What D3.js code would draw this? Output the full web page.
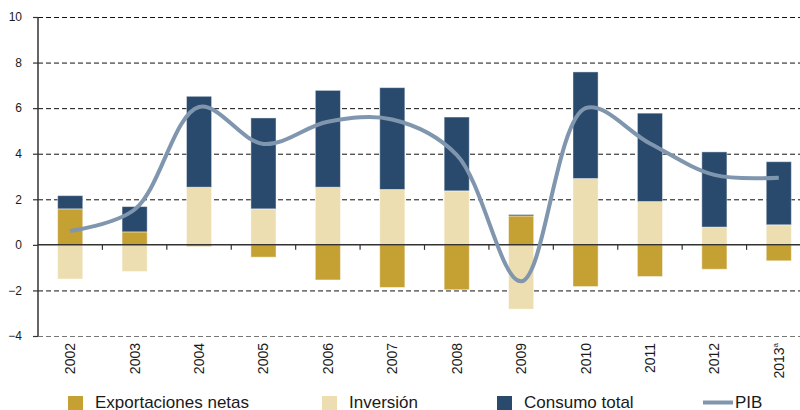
<!DOCTYPE html>
<html>
<head>
<meta charset="utf-8">
<script src="https://cdnjs.cloudflare.com/ajax/libs/d3/7.8.5/d3.min.js"></script>
<style>
  body { margin: 0; background: #fff; }
  text { font-family: "Liberation Sans", Arial, sans-serif; fill: #1a1a1a; }
</style>
</head>
<body>
<script>
var years = ["2002", "2003", "2004", "2005", "2006", "2007", "2008", "2009", "2010", "2011", "2012", "2013"];
var exportaciones = [1.58, 0.57, -0.07, -0.54, -1.54, -1.87, -1.97, 1.27, -1.83, -1.39, -1.07, -0.70];
var inversion = [-1.50, -1.17, 2.53, 1.58, 2.53, 2.43, 2.37, -2.82, 2.91, 1.90, 0.78, 0.88];
var consumo = [0.58, 1.11, 3.99, 3.99, 4.25, 4.47, 3.24, 0.06, 4.68, 3.88, 3.30, 2.77];
var pib = [0.61, 1.55, 6.05, 4.43, 5.40, 5.50, 3.95, -1.60, 6.00, 4.45, 3.07, 2.95];
var yTicks = [-4, -2, 0, 2, 4, 6, 8, 10];

var w = 800,
  h = 410,
  plotLeft = 38,
  plotRight = 811,
  plotTop = 17,
  plotBottom = 336;

var colors = {
  exportaciones: "#c5a033",
  inversion: "#ecdeb0",
  consumo: "#294a6d"
};
var pibColor = "#7f96ae";

var svg = d3.select("body")
  .append("svg")
  .attr("width", w)
  .attr("height", h);

var xScale = d3.scaleBand()
  .domain(years)
  .range([plotLeft, plotRight])
  .paddingInner(0.61)
  .paddingOuter(0.305);

var yScale = d3.scaleLinear()
  .domain([-4, 10])
  .range([plotBottom, plotTop]);

// gridlines
svg.append("g")
  .selectAll("line")
  .data(yTicks.filter(d => d !== 0))
  .enter()
  .append("line")
  .attr("x1", plotLeft)
  .attr("x2", w)
  .attr("y1", d => yScale(d) + 0.5)
  .attr("y2", d => yScale(d) + 0.5)
  .attr("stroke", d => d === -4 ? "#777" : "#111")
  .attr("stroke-width", 1)
  .attr("stroke-dasharray", "5,3");

// stacked bars
var rows = years.map((y, i) => ({
  year: y,
  exportaciones: exportaciones[i],
  inversion: inversion[i],
  consumo: consumo[i]
}));

var stack = d3.stack()
  .keys(["exportaciones", "inversion", "consumo"])
  .offset(d3.stackOffsetDiverging);

var series = stack(rows);

svg.append("g")
  .selectAll("g")
  .data(series)
  .enter()
  .append("g")
  .attr("fill", d => colors[d.key])
  .selectAll("rect")
  .data(d => d)
  .enter()
  .append("rect")
  .attr("x", d => xScale(d.data.year))
  .attr("width", xScale.bandwidth())
  .attr("y", d => yScale(Math.max(d[0], d[1])))
  .attr("height", d => Math.abs(yScale(d[0]) - yScale(d[1])))
  .attr("stroke", "#fff")
  .attr("stroke-opacity", 0.45)
  .attr("stroke-width", 1);

// zero line with category ticks
svg.append("line")
  .attr("x1", plotLeft)
  .attr("x2", w)
  .attr("y1", yScale(0))
  .attr("y2", yScale(0))
  .attr("stroke", "#333")
  .attr("stroke-width", 1.5);

var boundary = d => xScale(d) + xScale.bandwidth() + xScale.step() * xScale.paddingInner() / 2;

svg.append("g")
  .selectAll("line")
  .data(years.slice(0, -1))
  .enter()
  .append("line")
  .attr("x1", boundary)
  .attr("x2", boundary)
  .attr("y1", yScale(0))
  .attr("y2", yScale(0) + 5)
  .attr("stroke", "#333")
  .attr("stroke-width", 1.2);

// y axis
var yAxis = d3.axisLeft(yScale)
  .tickValues(yTicks)
  .tickSize(5)
  .tickPadding(11)
  .tickFormat(d3.format("d"));

var yg = svg.append("g")
  .attr("transform", `translate(${plotLeft}, 0)`)
  .call(yAxis);
yg.select(".domain").attr("stroke", "#333").attr("stroke-width", 1.5).attr("d", `M0,${plotTop}V${plotBottom}`);
yg.selectAll(".tick line").attr("stroke", "#333").attr("stroke-width", 1.2);
yg.selectAll(".tick text")
  .style("font-family", '"Liberation Sans", Arial, sans-serif')
  .style("font-size", "12px")
  .attr("fill", "#1a1a1a");

// x labels, rotated
var xl = svg.append("g")
  .selectAll("text")
  .data(years)
  .enter()
  .append("text")
  .attr("transform", d => `translate(${xScale(d) + xScale.bandwidth() / 2 + 5}, 343) rotate(-90)`)
  .attr("text-anchor", "end")
  .style("font-size", "14px");
xl.append("tspan").text(d => d);
xl.filter(d => d === "2013")
  .append("tspan")
  .attr("dy", -6)
  .style("font-size", "8px")
  .text("a");

// PIB line
var line = d3.line()
  .x((d, i) => xScale(years[i]) + xScale.bandwidth() / 2)
  .y(d => yScale(d))
  .curve(d3.curveCatmullRom.alpha(0.5));

svg.append("path")
  .datum(pib)
  .attr("fill", "none")
  .attr("stroke", pibColor)
  .attr("stroke-width", 4)
  .attr("d", line);

// legend
var legend = [
  { label: "Exportaciones netas", color: colors.exportaciones, x: 68 },
  { label: "Inversión", color: colors.inversion, x: 322 },
  { label: "Consumo total", color: colors.consumo, x: 497 }
];

var lg = svg.append("g");
legend.forEach(d => {
  lg.append("rect")
    .attr("x", d.x)
    .attr("y", 396)
    .attr("width", 15)
    .attr("height", 15)
    .attr("fill", d.color);
  lg.append("text")
    .attr("x", d.x + 27)
    .attr("y", 408)
    .style("font-size", "17px")
    .text(d.label);
});
lg.append("line")
  .attr("x1", 703)
  .attr("x2", 733)
  .attr("y1", 402.5)
  .attr("y2", 402.5)
  .attr("stroke", pibColor)
  .attr("stroke-width", 4);
lg.append("text")
  .attr("x", 735)
  .attr("y", 408)
  .style("font-size", "17px")
  .text("PIB");
</script>
</body>
</html>
